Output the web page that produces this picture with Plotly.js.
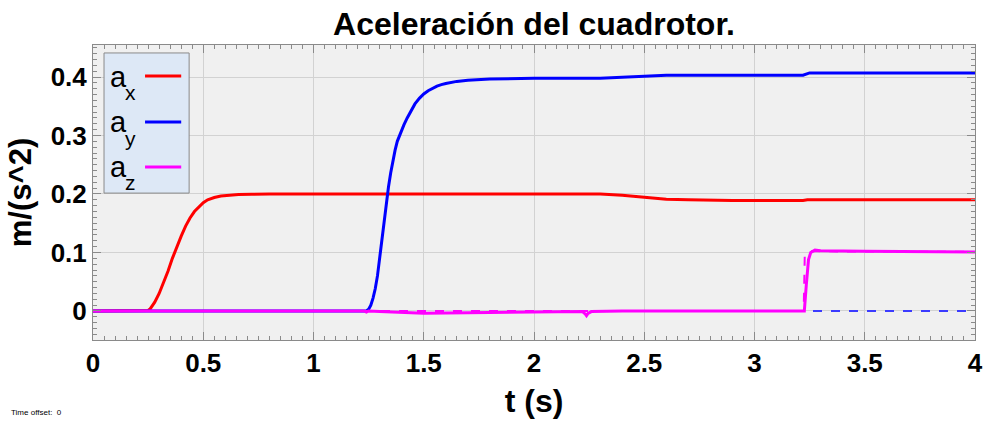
<!DOCTYPE html>
<html>
<head>
<meta charset="utf-8">
<script src="https://cdn.plot.ly/plotly-3.0.1.min.js"></script>
<style>html,body{margin:0;padding:0;background:#fff;}#chart{width:987px;height:426px;}</style>
</head>
<body>
<div id="chart"></div>
<script>
// Time axis samples and series values
const tAx = [0, 0.24, 0.25, 0.26, 0.27, 0.28, 0.3, 0.32, 0.34, 0.36, 0.38, 0.4, 0.42, 0.44, 0.46, 0.48, 0.5, 0.52, 0.55, 0.58, 0.62, 0.66, 0.72, 0.8, 2.3, 2.35, 2.4, 2.45, 2.5, 2.55, 2.6, 2.7, 2.9, 3.22, 3.24, 4.0];
const ax  = [0, 0, 0.001, 0.004, 0.009, 0.015, 0.03, 0.048, 0.068, 0.09, 0.11, 0.128, 0.145, 0.159, 0.17, 0.178, 0.185, 0.19, 0.194, 0.1965, 0.1982, 0.199, 0.1996, 0.2, 0.2, 0.1995, 0.198, 0.196, 0.194, 0.192, 0.191, 0.19, 0.189, 0.189, 0.19, 0.19];

const tAy = [0, 1.24, 1.25, 1.26, 1.27, 1.28, 1.29, 1.3, 1.31, 1.32, 1.33, 1.34, 1.35, 1.36, 1.37, 1.38, 1.395, 1.41, 1.425, 1.44, 1.46, 1.48, 1.5, 1.52, 1.54, 1.56, 1.58, 1.6, 1.65, 1.7, 1.8, 1.9, 2.0, 2.3, 2.35, 2.4, 2.45, 2.5, 2.6, 3.22, 3.235, 3.25, 4.0];
const ay  = [0, 0, 0.003, 0.01, 0.022, 0.038, 0.06, 0.09, 0.123, 0.158, 0.188, 0.212, 0.236, 0.258, 0.275, 0.29, 0.305, 0.318, 0.33, 0.341, 0.354, 0.3635, 0.371, 0.3765, 0.381, 0.3845, 0.387, 0.389, 0.3925, 0.3945, 0.3965, 0.3975, 0.398, 0.398, 0.399, 0.4, 0.401, 0.402, 0.403, 0.403, 0.405, 0.407, 0.407];

const tAz = [0, 1.23, 1.24, 1.25, 1.3, 1.4, 1.5, 1.7, 1.9, 2.1, 2.22, 2.232, 2.238, 2.245, 2.26, 2.4, 3.0, 3.226, 3.235, 3.245, 3.255, 3.274, 3.3, 3.5, 4.0];
const az  = [0, 0, -0.002, 0, -0.001, -0.003, -0.004, -0.003, -0.002, -0.001, -0.001, -0.005, -0.008, -0.004, -0.001, 0, 0, 0, 0.045, 0.088, 0.1, 0.104, 0.103, 0.102, 0.101];

const tRefAz = [0, 3.223, 3.228, 3.25, 3.3, 4.0];
const refAz  = [0, 0, 0.095, 0.102, 0.102, 0.101];

const tRefB = [0, 4.0];
const refB  = [0, 0];

const xTicks = [0, 0.5, 1, 1.5, 2, 2.5, 3, 3.5, 4];
const yTicks = [0, 0.1, 0.2, 0.3, 0.4];

const legendBase = ['a', 'a', 'a'];
const legendSubs = ['x', 'y', 'z'];
const legendColors = ['#ff0000', '#0000ff', '#ff00ff'];

const FONT = 'Liberation Sans, Arial, sans-serif';

const traces = [
  {x: tRefB, y: refB, mode: 'lines', line: {color: '#3b3bff', width: 2, dash: 'dash'}, showlegend: false, hoverinfo: 'skip'},
  {x: tAx, y: ax, mode: 'lines', line: {color: legendColors[0], width: 3}, showlegend: false},
  {x: tAy, y: ay, mode: 'lines', line: {color: legendColors[1], width: 3}, showlegend: false},
  {x: tRefAz, y: refAz, mode: 'lines', line: {color: legendColors[2], width: 2, dash: 'dash'}, showlegend: false, hoverinfo: 'skip'},
  {x: tAz, y: az, mode: 'lines', line: {color: legendColors[2], width: 3}, showlegend: false}
];

// Custom legend (box, labels and sample lines in paper coordinates)
const shapes = [{
  type: 'rect', xref: 'paper', yref: 'paper', x0: 0.0125, x1: 0.109, y0: 0.498, y1: 0.973,
  fillcolor: '#dde8f6', line: {color: '#8a8a8a', width: 1}, layer: 'above'
}];
const annotations = [];
const lineY = [0.8949, 0.739, 0.5864];
const baseY = [0.893, 0.738, 0.587];
const subY  = [0.838, 0.683, 0.533];
legendBase.forEach((b, i) => {
  shapes.push({type: 'line', xref: 'paper', yref: 'paper', x0: 0.059, x1: 0.100, y0: lineY[i], y1: lineY[i],
    line: {color: legendColors[i], width: 3}, layer: 'above'});
  annotations.push({xref: 'paper', yref: 'paper', x: 0.0175, y: baseY[i], xanchor: 'left', yanchor: 'middle',
    text: b, showarrow: false, font: {family: FONT, size: 29, color: '#000'}});
  annotations.push({xref: 'paper', yref: 'paper', x: 0.0335, y: subY[i], xanchor: 'left', yanchor: 'middle',
    text: legendSubs[i], showarrow: false, font: {family: FONT, size: 21, color: '#000'}});
});
annotations.push({xref: 'paper', yref: 'paper', x: -0.095, y: -0.247, xanchor: 'left', yanchor: 'middle',
  text: 'Time offset:  0', showarrow: false, font: {family: FONT, size: 8, color: '#000'}});

const layout = {
  width: 987, height: 426,
  margin: {l: 93, r: 12, t: 45, b: 86},
  paper_bgcolor: '#ffffff',
  plot_bgcolor: '#f0f0f0',
  title: {text: 'Aceleración del cuadrotor.', x: 0.5, xref: 'paper', y: 0.945, yanchor: 'middle',
    font: {family: FONT, size: 32, weight: 'bold', color: '#000'}},
  xaxis: {
    range: [0, 4], tickvals: xTicks, ticktext: xTicks.map(String),
    showgrid: true, gridcolor: '#d2d2d2', gridwidth: 1, zeroline: false,
    showline: true, linecolor: '#8a8a8a', linewidth: 1, mirror: 'ticks',
    ticks: 'inside', ticklen: 8, tickcolor: '#8a8a8a',
    minor: {dtick: 0.05, ticks: 'inside', ticklen: 4, tickcolor: '#8a8a8a', showgrid: false},
    tickfont: {family: FONT, size: 26, weight: 'bold', color: '#000'},
    title: {text: 't (s)', font: {family: FONT, size: 32, weight: 'bold', color: '#000'}, standoff: 12}
  },
  yaxis: {
    range: [-0.0496, 0.4547], tickvals: yTicks, ticktext: yTicks.map(String),
    showgrid: true, gridcolor: '#d2d2d2', gridwidth: 1, zeroline: false,
    showline: true, linecolor: '#8a8a8a', linewidth: 1, mirror: 'ticks',
    ticks: 'inside', ticklen: 8, tickcolor: '#8a8a8a',
    minor: {dtick: 0.01, ticks: 'inside', ticklen: 4, tickcolor: '#8a8a8a', showgrid: false},
    tickfont: {family: FONT, size: 26, weight: 'bold', color: '#000'},
    title: {text: 'm/(s^2)', font: {family: FONT, size: 31, weight: 'bold', color: '#000'}, standoff: 9}
  },
  shapes: shapes,
  annotations: annotations,
  showlegend: false
};

Plotly.newPlot('chart', traces, layout, {staticPlot: true, displayModeBar: false});
</script>
</body>
</html>
